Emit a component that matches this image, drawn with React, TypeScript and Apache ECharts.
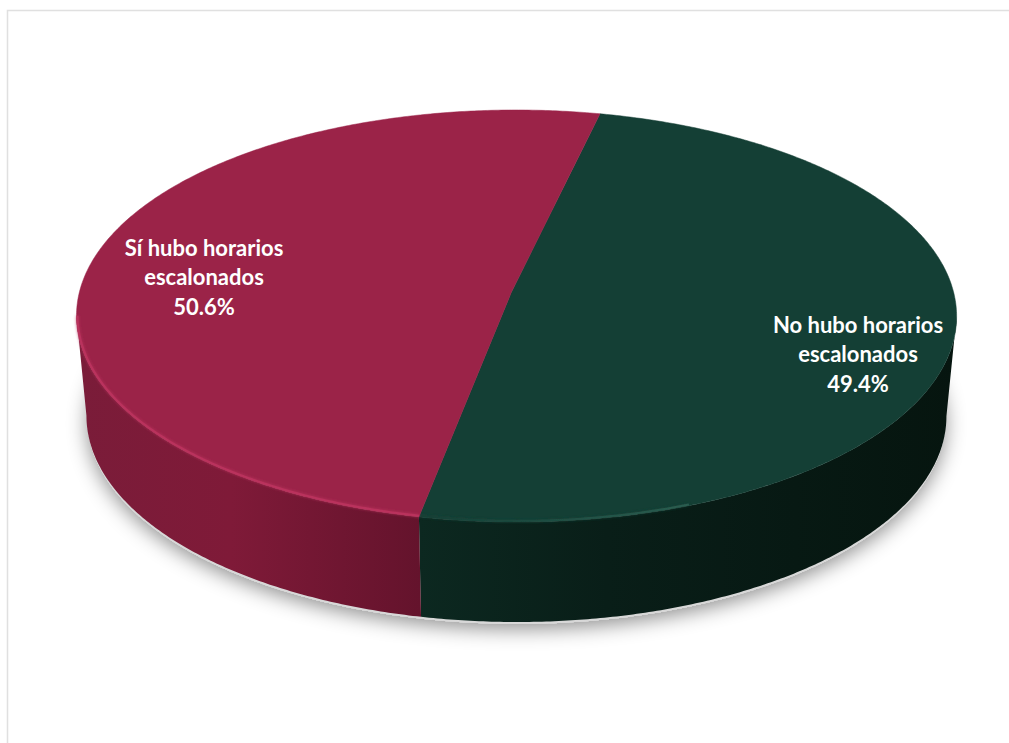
import React, { useEffect, useRef } from "react";
import * as echarts from "echarts";

const categories = ["No hubo horarios\nescalonados", "Sí hubo horarios\nescalonados"];
const shares = [49.4, 50.6];
const topColors = ["#143F35", "#9B2348"];
const rimColors = ["#2A5D50", "#BA335D"];
const wallStops = [
  [[0, "#0C2820"], [0.35, "#091E18"], [0.7, "#071913"], [1, "#06150F"]],
  [[0, "#7A1C39"], [0.45, "#7F1A38"], [1, "#64132C"]],
];

const START_DEG = 13;
const TILT = 0.1165;
const SKEW = -0.0114;
const TOP_DISC = { hx: 511.5, hy: 292, a: 437, b: 203.2 };
const BASE_DISC = { hx: 511.5, hy: 392, a: 427, b: 203.2 };
const LABEL_POS = [[858, 353.5], [204, 276.5]];
// Angles where the projected disc reaches its left and right extremes.
const SILHOUETTE = [96.7, 263.3];

type Disc = { hx: number; hy: number; a: number; b: number };

// Perspective projection of a point on the unit circle, clockwise from the far side.
function project(deg: number, d: Disc): number[] {
  const t = (deg * Math.PI) / 180;
  const u = Math.sin(t);
  const v = Math.cos(t);
  const w = 1 + TILT * v + SKEW * u;
  return [d.hx + (d.a * u) / w, d.hy - (d.b * v) / w];
}

function arc(from: number, to: number, d: Disc): number[][] {
  const steps = Math.max(2, Math.ceil(Math.abs(to - from) * 2));
  const out: number[][] = [];
  for (let i = 0; i <= steps; i++) out.push(project(from + ((to - from) * i) / steps, d));
  return out;
}

function sliceRange(index: number): number[] {
  const total = shares.reduce((s, v) => s + v, 0);
  let acc = 0;
  for (let i = 0; i < index; i++) acc += shares[i];
  const a = START_DEG + (acc / total) * 360;
  const b = START_DEG + ((acc + shares[index]) / total) * 360;
  return [a, b];
}

function renderSlice(params: any, api: any) {
  const i = params.dataIndex;
  const [a, b] = sliceRange(i);
  const wallFrom = Math.max(a, SILHOUETTE[0]);
  const wallTo = Math.min(b, SILHOUETTE[1]);
  const wall = arc(wallFrom, wallTo, TOP_DISC).concat(arc(wallTo, wallFrom, BASE_DISC));
  const [lx, ly] = LABEL_POS[i];
  const rimFrom = i === 0 ? Math.max(a, b - 32) : a;
  const rimTo = i === 0 ? b : wallTo;
  const rimFill =
    i === 0
      ? new echarts.graphic.LinearGradient(1, 0, 0, 0, [
          { offset: 0, color: rimColors[0] },
          { offset: 1, color: topColors[0] },
        ])
      : rimColors[1];
  return {
    type: "group",
    children: [
      {
        type: "polygon",
        shape: { points: wall },
        style: {
          fill: new echarts.graphic.LinearGradient(
            0, 0, 1, 0,
            wallStops[i].map(([offset, color]) => ({ offset, color }))
          ),
        },
      },
      {
        type: "polygon",
        shape: { points: [[TOP_DISC.hx, TOP_DISC.hy], ...arc(a, b, TOP_DISC)] },
        style: { fill: topColors[i], stroke: topColors[i], lineWidth: 0.5 },
      },
      {
        type: "polyline",
        shape: { points: arc(rimFrom, rimTo, { ...TOP_DISC, a: TOP_DISC.a - 1, b: TOP_DISC.b - 1 }) },
        style: {
          fill: null,
          stroke: rimFill,
          lineWidth: 2,
          shadowBlur: 3,
          shadowColor: i === 0 ? topColors[0] : rimColors[1],
        },
      },
      {
        type: "text",
        x: lx,
        y: ly,
        style: {
          text: `${categories[i]}\n${api.value(0).toFixed(1)}%`,
          fill: "#FFFFFF",
          font: "700 22px Lato",
          lineHeight: 29.5,
          align: "center",
          verticalAlign: "middle",
        },
      },
    ],
  };
}

// Soft ground shadow around the base of the disc; the shape itself stays behind the wall.
function renderShadow() {
  const ground = { ...BASE_DISC, hy: BASE_DISC.hy + 3, a: BASE_DISC.a - 1, b: BASE_DISC.b - 1 };
  return {
    type: "polygon",
    shape: { points: arc(0, 360, ground) },
    style: { fill: "#D8D8D8", shadowBlur: 20, shadowOffsetY: 5, shadowColor: "rgba(0,0,0,0.44)" },
  };
}

export default function App() {
  const ref = useRef<HTMLDivElement>(null);
  useEffect(() => {
    document.body.style.margin = "0";
    document.body.style.overflow = "hidden";
    const chart = echarts.init(ref.current!, null, { renderer: "svg" });
    chart.setOption({
      animation: false,
      backgroundColor: "#FFFFFF",
      graphic: [
        {
          type: "polyline",
          shape: { points: [[7.5, 743], [7.5, 10.5], [1009, 10.5]] },
          style: { fill: null, stroke: "#E0E0E0", lineWidth: 1.5 },
          silent: true,
        },
      ],
      series: [
        {
          type: "custom",
          coordinateSystem: "none",
          silent: true,
          z: 1,
          data: [[1]],
          renderItem: renderShadow,
        },
        {
          type: "custom",
          coordinateSystem: "none",
          silent: true,
          z: 2,
          data: shares.map((v) => [v]),
          renderItem: renderSlice,
        },
      ],
    });
    return () => chart.dispose();
  }, []);
  return <div ref={ref} style={{ width: 1009, height: 743 }} />;
}
